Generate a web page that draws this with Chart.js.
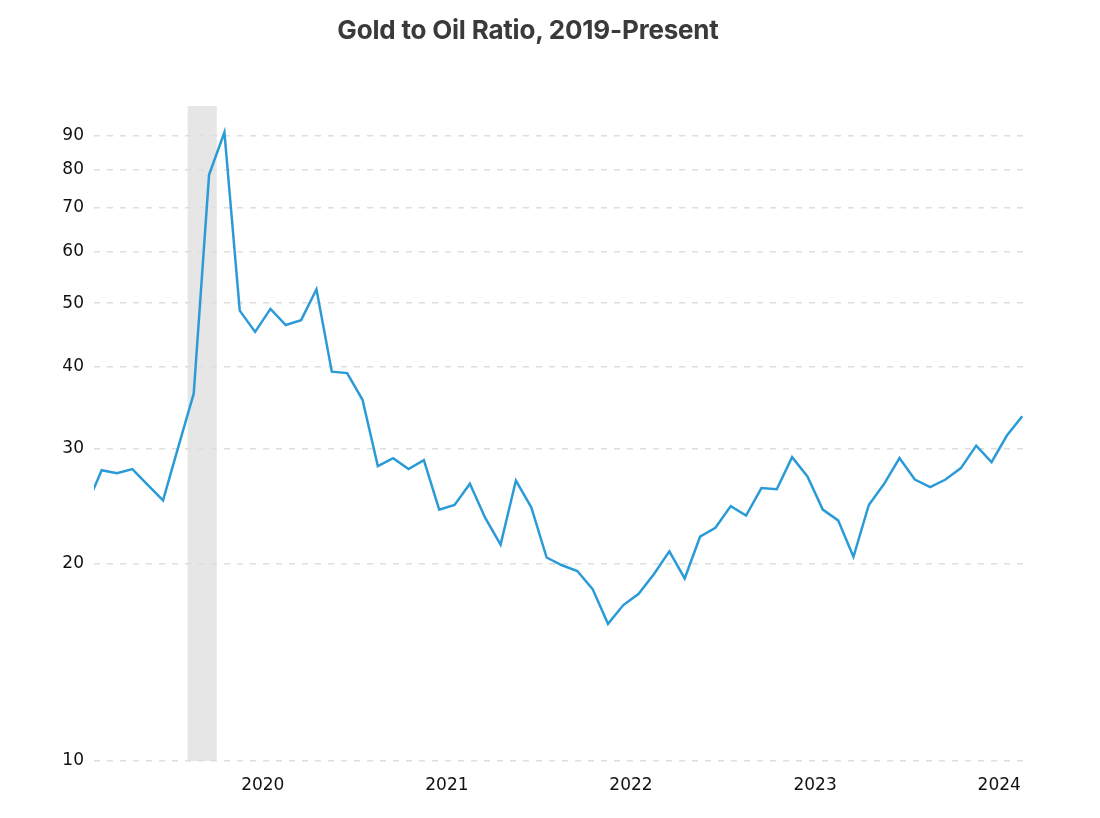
<!DOCTYPE html>
<html>
<head>
<meta charset="utf-8">
<script src="https://cdn.jsdelivr.net/npm/chart.js@4.4.1/dist/chart.umd.min.js"></script>
<style>
  body { margin: 0; background: #fff; }
  #wrap { position: relative; width: 1100px; height: 818px; }
  #title {
    position: absolute; left: 0; top: 17px; width: 1056px;
    text-align: center; font: 700 26px/26px Inter, "Noto Sans", sans-serif;
    color: #3a3a3a; letter-spacing: -0.2px;
  }
</style>
</head>
<body>
<div id="wrap">
  <div id="title">Gold to Oil Ratio, 2019-Present</div>
  <canvas id="chart" width="1100" height="818"></canvas>
</div>
<script>
// monthly gold/oil ratio, index 0 = Jul 2019
const ratio = [
  24.5, 27.8, 27.5, 27.9, 26.4, 25.0, 30.2, 36.4, 78.5, 91.2,
  48.7, 45.2, 49.0, 46.3, 47.1, 52.5, 39.3, 39.1, 35.6, 28.2,
  29.0, 27.9, 28.8, 24.2, 24.6, 26.5, 23.5, 21.4, 26.8, 24.4,
  20.45, 19.9, 19.5, 18.3, 16.2, 17.3, 18.0, 19.3, 20.9, 19.0,
  22.0, 22.7, 24.5, 23.7, 26.1, 26.0, 29.1, 27.2, 24.2, 23.3,
  20.5, 24.6, 26.5, 29.0, 26.9, 26.2, 26.9, 28.0, 30.3, 28.6,
  31.4, 33.6
];
const yTicks = [10, 20, 30, 40, 50, 60, 70, 80, 90];
const yearLabels = ['2020', '2021', '2022', '2023', '2024'];
const yearTickAt = [11.5, 23.5, 35.5, 47.5, 59.5];   // mid-year, in month index
const recession = [6.6, 8.5];                       // shaded band, month index

const bandPlugin = {
  id: 'band',
  beforeDraw(chart) {
    const {ctx, chartArea, scales} = chart;
    const x0 = scales.x.getPixelForValue(recession[0]);
    const x1 = scales.x.getPixelForValue(recession[1]);
    ctx.save();
    ctx.fillStyle = '#e6e6e6';
    ctx.fillRect(x0, chartArea.top, x1 - x0, chartArea.bottom - chartArea.top);
    ctx.restore();
  }
};

const tickFont = {family: '"DejaVu Sans", Verdana, sans-serif', size: 17};

new Chart(document.getElementById('chart'), {
  type: 'line',
  data: {
    datasets: [{
      data: ratio.map((v, i) => ({x: i, y: v})),
      borderColor: '#2b9bd8',
      borderWidth: 2.5,
      pointRadius: 0,
      tension: 0,
      fill: false,
      clip: 0
    }]
  },
  options: {
    responsive: false,
    animation: false,
    layout: {padding: {top: 106, right: 75, bottom: 0, left: 0}},
    plugins: {legend: {display: false}, tooltip: {enabled: false}},
    scales: {
      x: {
        type: 'linear',
        min: 0.5,
        max: 61.18,
        afterBuildTicks: s => { s.ticks = yearTickAt.map(v => ({value: v})); },
        afterFit: s => { s.height = 57; },
        grid: {display: false},
        border: {display: false},
        ticks: {
          padding: 6,
          color: '#111',
          font: tickFont,
          maxRotation: 0,
          autoSkip: false,
          callback: (v) => yearLabels[yearTickAt.indexOf(v)]
        }
      },
      y: {
        type: 'logarithmic',
        min: 10,
        max: 100,
        afterBuildTicks: s => { s.ticks = yTicks.map(v => ({value: v})); },
        afterFit: s => { s.width = 94; },
        grid: {color: '#dedede', lineWidth: 1.5, drawTicks: false},
        border: {display: false, dash: [6, 7]},
        ticks: {
          padding: 10,
          color: '#111',
          font: tickFont,
          autoSkip: false,
          callback: v => String(v)
        }
      }
    }
  },
  plugins: [bandPlugin]
});
</script>
</body>
</html>
